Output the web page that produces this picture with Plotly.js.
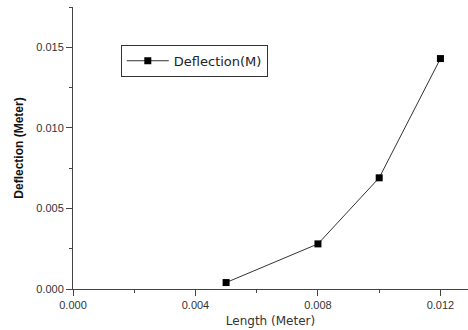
<!DOCTYPE html>
<html>
<head>
<meta charset="utf-8">
<script src="https://cdn.plot.ly/plotly-3.0.1.min.js"></script>
<style>html,body{margin:0;padding:0;background:#fff;}#chart{width:468px;height:330px;}</style>
</head>
<body>
<div id="chart"></div>
<script>
const lengthM = [0.005, 0.008, 0.010, 0.012];
const deflectionM = [0.0004, 0.0028, 0.0069, 0.0143];
const seriesName = "Deflection(M)";
const xTitle = "Length (Meter)";
const yTitle = "<b>Deflection (Meter)</b>";

const trace = {
  x: lengthM,
  y: deflectionM,
  name: seriesName,
  type: "scatter",
  mode: "lines+markers",
  line: {color: "#333333", width: 1},
  marker: {symbol: "square", size: 7, color: "#000000"},
  showlegend: true
};

const axisFont = {family: "Liberation Sans, Arial, sans-serif", size: 11, color: "#333333"};

const layout = {
  width: 468, height: 330,
  margin: {l: 73, r: 0, t: 7, b: 41},
  paper_bgcolor: "#ffffff",
  plot_bgcolor: "#ffffff",
  showlegend: true,
  legend: {
    x: 0.121, y: 0.866, xanchor: "left", yanchor: "top",
    bgcolor: "#ffffff", bordercolor: "#333333", borderwidth: 1,
    itemwidth: 42,
    font: {family: "DejaVu Sans, sans-serif", size: 13, color: "#222222"}
  },
  xaxis: {
    range: [0, 0.0129],
    dtick: 0.004, tick0: 0,
    tickformat: ".3f",
    ticks: "outside", ticklen: 6, tickwidth: 1, tickcolor: "#444444",
    minor: {dtick: 0.002, ticks: "outside", ticklen: 3, tickcolor: "#444444"},
    showline: true, linecolor: "#444444", linewidth: 1,
    showgrid: false, zeroline: false,
    tickfont: axisFont,
    title: {text: xTitle, font: {family: "DejaVu Sans, sans-serif", size: 12, color: "#333333"}, standoff: 6}
  },
  yaxis: {
    range: [0, 0.0175],
    dtick: 0.005, tick0: 0,
    tickformat: ".3f",
    ticks: "outside", ticklen: 6, tickwidth: 1, tickcolor: "#444444",
    minor: {dtick: 0.0025, ticks: "outside", ticklen: 3, tickcolor: "#444444"},
    showline: true, linecolor: "#444444", linewidth: 1,
    showgrid: false, zeroline: false,
    tickfont: axisFont,
    title: {text: yTitle, font: {family: "Liberation Sans, Arial, sans-serif", size: 12, color: "#111111"}, standoff: 10}
  }
};

Plotly.newPlot("chart", [trace], layout, {displayModeBar: false, staticPlot: true});
</script>
</body>
</html>
